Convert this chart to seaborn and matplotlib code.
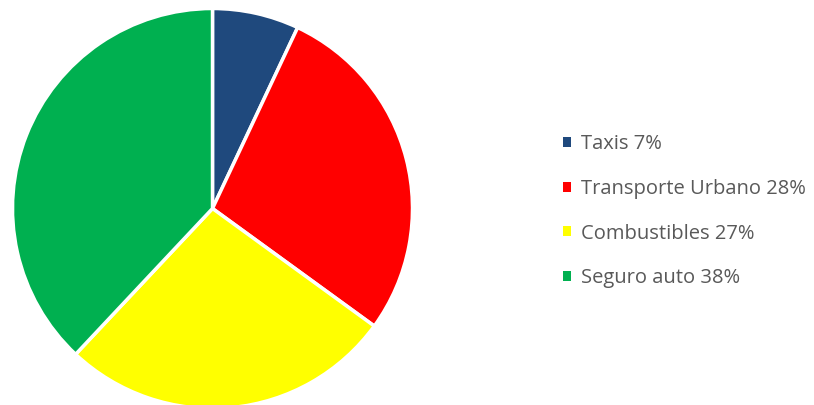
import matplotlib
matplotlib.use("Agg")
import matplotlib.pyplot as plt
import seaborn as sns
from matplotlib.patches import Patch

# data
categories = ["Taxis", "Transporte Urbano", "Combustibles", "Seguro auto"]
shares = [7, 28, 27, 38]
colors = ["#1F497D", "#FF0000", "#FFFF00", "#00B050"]

sns.set_theme(style="white")
plt.rcParams['font.family'] = ['Open Sans', 'DejaVu Sans']

fig = plt.figure(figsize=(8.14, 4.05), dpi=100)
ax = fig.add_axes([12.5 / 814, -3.5 / 405, 400 / 814, 400 / 405])

ax.pie(shares, colors=colors, startangle=90, counterclock=False,
       wedgeprops=dict(edgecolor="white", linewidth=2.5))
ax.set_xlim(-1, 1)
ax.set_ylim(-1, 1)
ax.set_aspect("equal")
ax.axis("off")

labels = [f"{c} {s}%" for c, s in zip(categories, shares)]
handles = [Patch(facecolor=c, edgecolor="none") for c in colors]
fig.legend(handles, labels, loc="upper left", bbox_to_anchor=(555 / 814, 1 - 126 / 405),
           frameon=False, fontsize=14.5, labelcolor="#595959",
           handlelength=0.4, handleheight=0.4, handletextpad=0.5,
           labelspacing=1.23, borderaxespad=0)

fig.savefig("out.png", dpi=100)
